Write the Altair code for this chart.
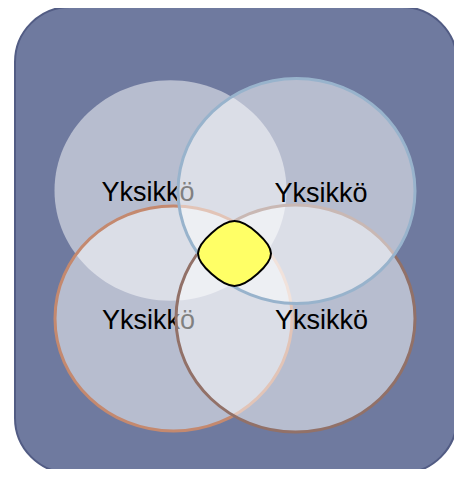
import altair as alt
import pandas as pd

# Frame (rounded background panel), in picture coordinates
frame_x = [15]
frame_x2 = [457]
frame_y = [7]
frame_y2 = [473]

# Four sets (drawing order: top-left, bottom-left, bottom-right, top-right)
set_names = ["TL", "BL", "BR", "TR"]
set_cx = [170.5, 173.5, 295.5, 296.5]
set_cy = [190.5, 318.5, 318.5, 191.0]
set_labels = ["Yksikkö", "Yksikkö", "Yksikkö", "Yksikkö"]
label_x = [148.0, 148.5, 321.5, 321.0]
label_y = [201.0, 328.5, 328.5, 201.5]

# Common intersection marker
center_x = [234.5]
center_y = [253.5]

XS = alt.Scale(domain=[8, 454], nice=False, zero=False)
YS = alt.Scale(domain=[8, 469], nice=False, zero=False, reverse=True)

frame_df = pd.DataFrame({"x": frame_x, "x2": frame_x2, "y": frame_y, "y2": frame_y2})
sets_df = pd.DataFrame({"name": set_names, "cx": set_cx, "cy": set_cy,
                        "label": set_labels, "lx": label_x, "ly": label_y})
center_df = pd.DataFrame({"cx": center_x, "cy": center_y})

ELLIPSE = "M-1,0A1,0.95,0,1,0,1,0A1,0.95,0,1,0,-1,0Z"
ROUNDED = ("M0,-0.89C0.35,-0.89,1,-0.3,1,0C1,0.3,0.35,0.89,0,0.89"
           "C-0.35,0.89,-1,0.3,-1,0C-1,-0.3,-0.35,-0.89,0,-0.89Z")

frame = alt.Chart(frame_df).mark_rect(
    fill="#6f7a9f", stroke="#525c84", strokeWidth=2, cornerRadius=55
).encode(
    x=alt.X("x:Q", scale=XS, axis=None),
    x2="x2:Q",
    y=alt.Y("y:Q", scale=YS, axis=None),
    y2="y2:Q",
)

styles = {
    "TL": dict(width=232, stroke=None),
    "BL": dict(width=237, stroke="#c4896f"),
    "BR": dict(width=239, stroke="#927168"),
    "TR": dict(width=237, stroke="#98b3cc"),
}

layers = [frame]
for name in set_names:
    st = styles[name]
    base = alt.Chart(sets_df).transform_filter(alt.datum.name == name)
    mk = dict(shape=ELLIPSE, size=st["width"] ** 2, filled=True,
              fill="white", fillOpacity=0.5, opacity=1)
    if st["stroke"]:
        mk.update(stroke=st["stroke"], strokeWidth=3, strokeOpacity=1)
    else:
        mk.update(strokeWidth=0)
    circ = base.mark_point(**mk).encode(
        x=alt.X("cx:Q", scale=XS, axis=None),
        y=alt.Y("cy:Q", scale=YS, axis=None),
    )
    txt = base.mark_text(
        font="Liberation Sans", fontSize=27, color="black",
        align="center", baseline="alphabetic"
    ).encode(
        x=alt.X("lx:Q", scale=XS, axis=None),
        y=alt.Y("ly:Q", scale=YS, axis=None),
        text="label:N",
    )
    layers += [circ, txt]

center = alt.Chart(center_df).mark_point(
    shape=ROUNDED, size=73 ** 2, filled=True, fill="#ffff66", opacity=1,
    stroke="black", strokeWidth=2
).encode(
    x=alt.X("cx:Q", scale=XS, axis=None),
    y=alt.Y("cy:Q", scale=YS, axis=None),
)
layers.append(center)

chart = alt.layer(*layers).properties(
    width=446, height=461, padding=0, autosize=alt.AutoSizeParams(type="none")
).configure_view(stroke=None)

chart.save("out.html", embed_options={"renderer": "svg", "actions": False})
